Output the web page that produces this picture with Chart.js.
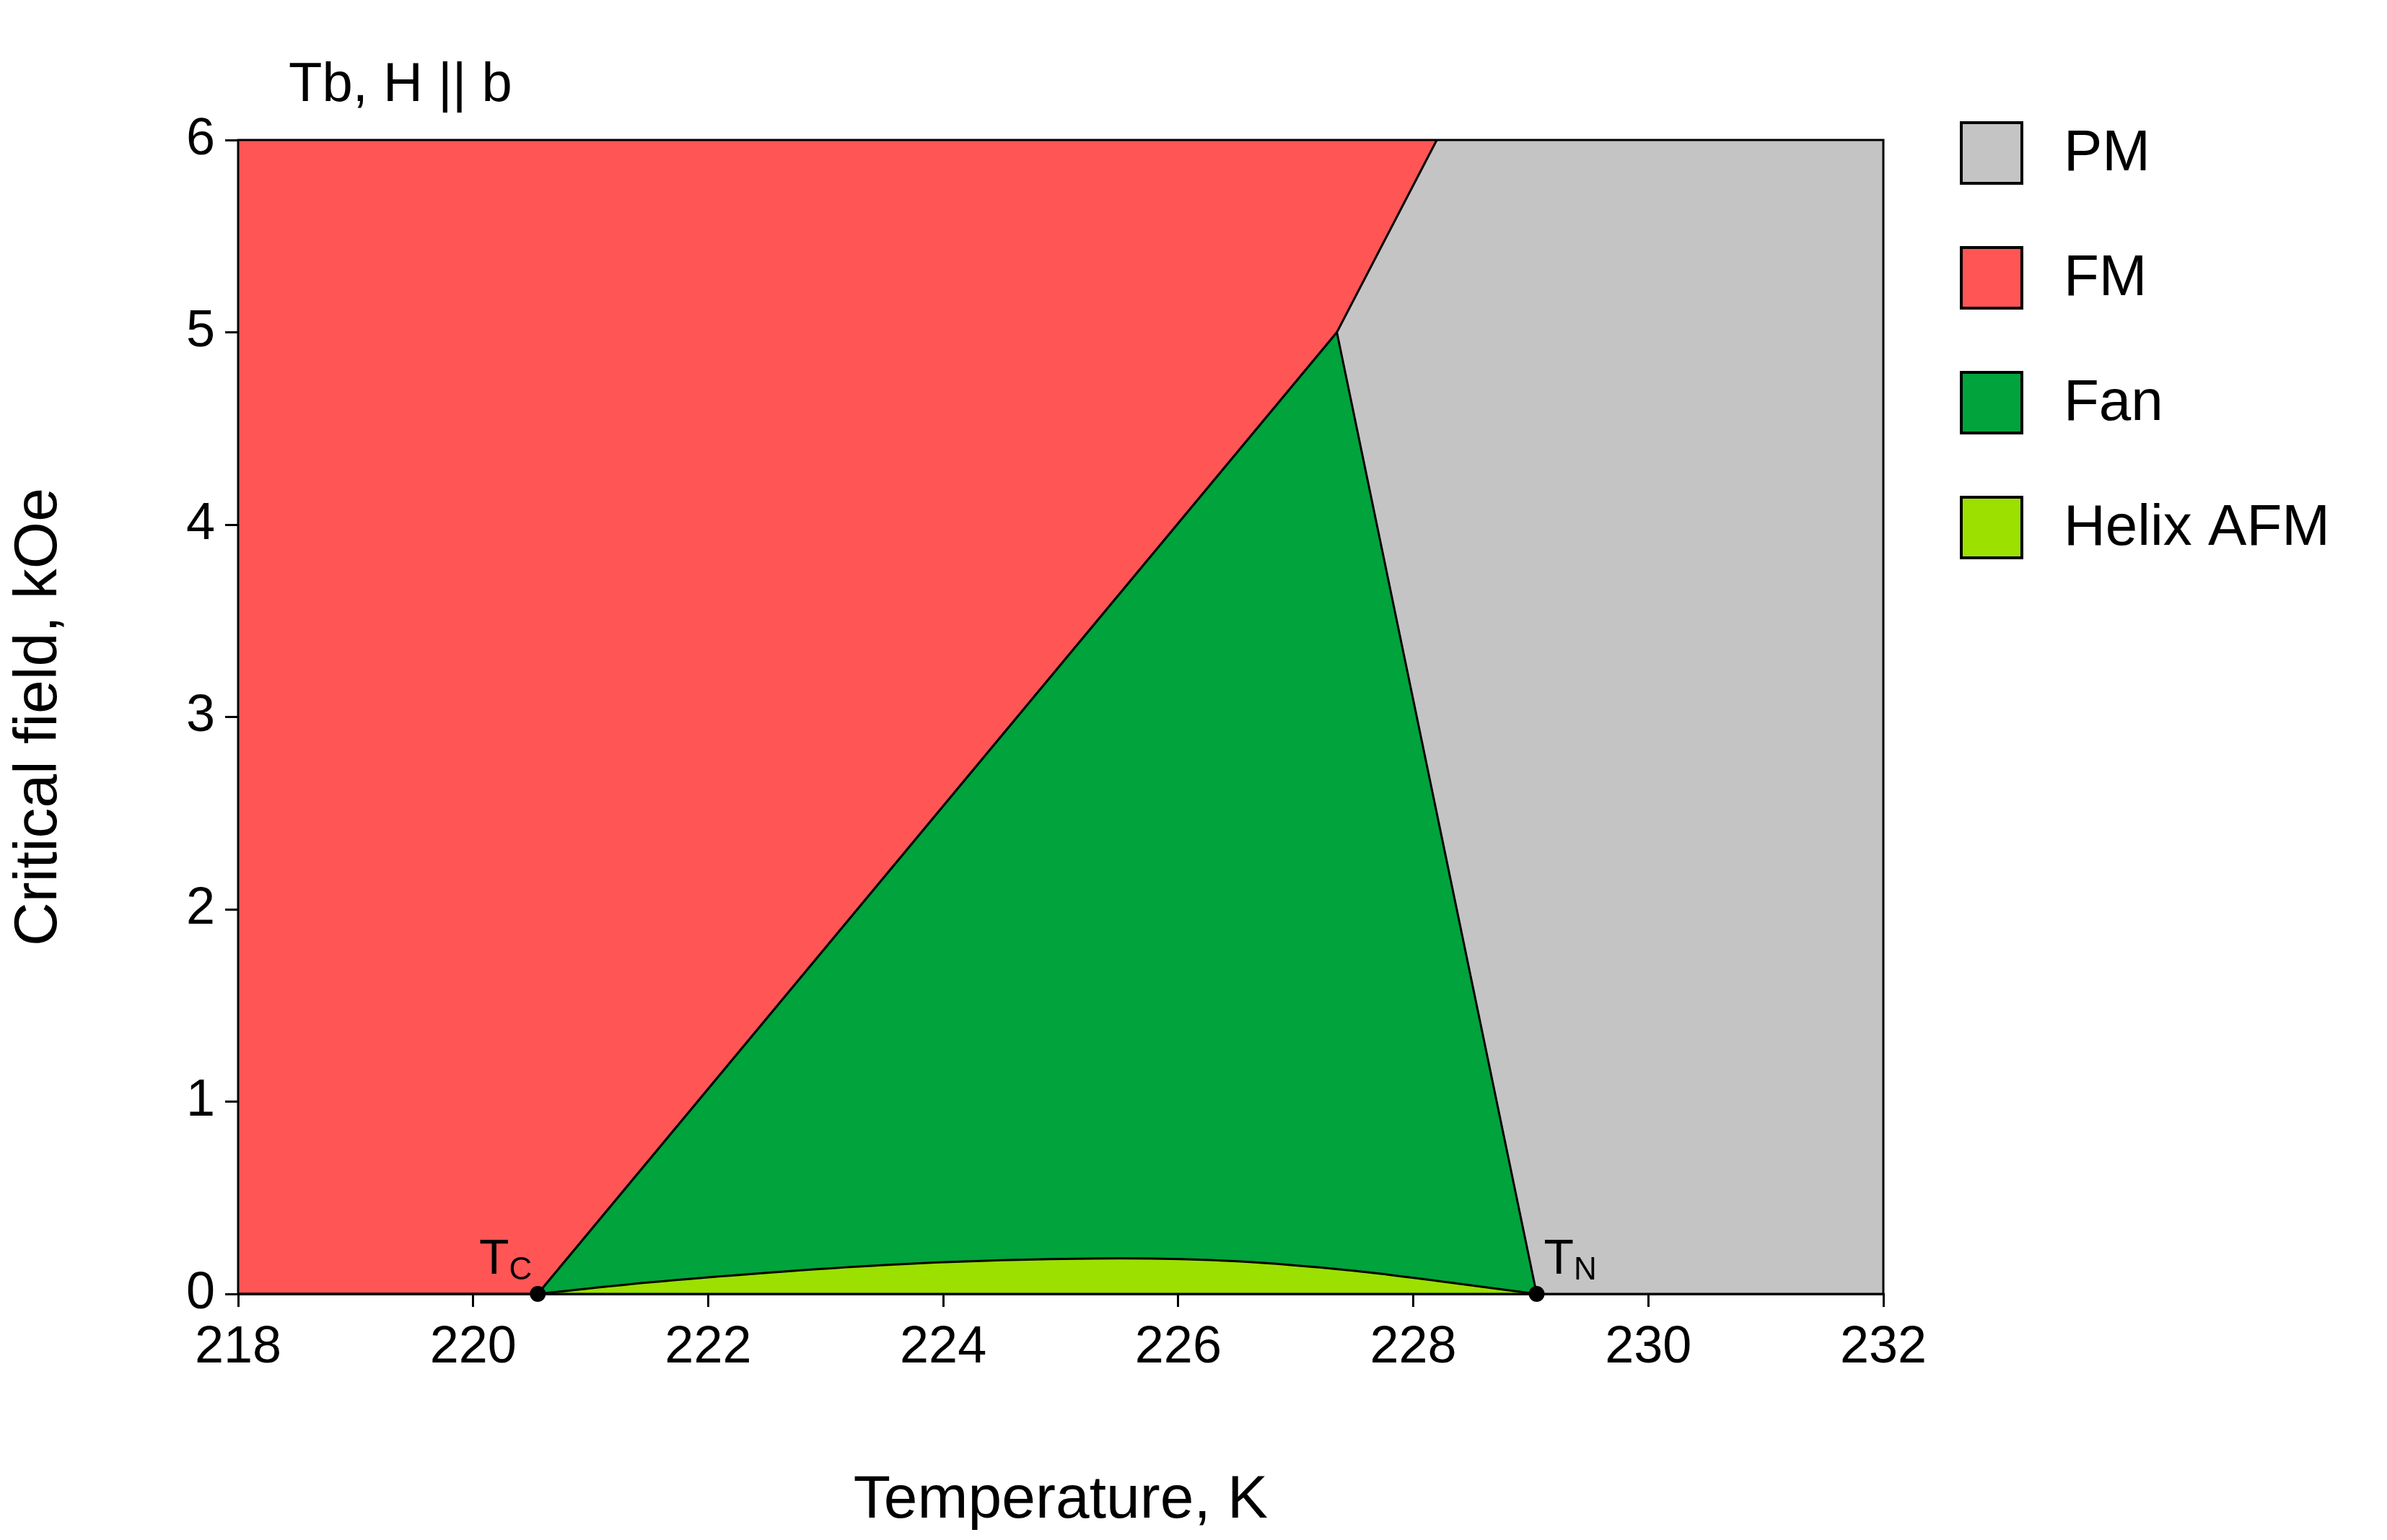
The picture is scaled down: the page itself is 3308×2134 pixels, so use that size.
<!DOCTYPE html>
<html><head><meta charset="utf-8">
<script src="https://cdn.jsdelivr.net/npm/chart.js@4"></script>
<style>html,body{margin:0;background:#fff}</style></head>
<body><canvas id="c" width="3308" height="2134"></canvas>
<script>
const xTicks=[218,220,222,224,226,228,230,232];
const yTicks=[0,1,2,3,4,5,6];
const pmArea=[[218,6],[232,6]];
const fmBoundary=[[218,0],[220.55,0],[227.35,5],[228.2,6]];
const fanBoundary=[[220.55,0],[227.35,5],[229.05,0]];
const helixT=[220.55,221.5,222.5,223.5,224.5,225.5,226.5,227.5,228.3,229.05];
const helixH=[0,0.06,0.11,0.15,0.175,0.185,0.17,0.12,0.06,0];
const transitions=[[220.55,0,'T','C'],[229.05,0,'T','N']];
const legendItems=[['PM','#c4c4c4'],['FM','#ff5555'],['Fan','#00a33c'],['Helix AFM','#9ce000']];
const pts=a=>a.map(p=>({x:p[0],y:p[1]}));
const F='Arial, "Liberation Sans", sans-serif';
const L=330,R=2610,T=194,B=1793;
const deco={id:'deco',afterDraw(ch){
 const c=ch.ctx,a=ch.chartArea,xs=ch.scales.x,ys=ch.scales.y;
 c.save();c.strokeStyle='#000';c.lineWidth=3;c.strokeRect(a.left,a.top,a.right-a.left,a.bottom-a.top);
 c.fillStyle='#000';c.textBaseline='alphabetic';
 c.font='76px '+F;c.fillText('Tb, H || b',400,140);
 transitions.forEach((t,i)=>{const px=xs.getPixelForValue(t[0]),py=ys.getPixelForValue(t[1]);
  c.beginPath();c.arc(px,py,11,0,7);c.fill();
  c.font='68px '+F;
  if(i==0){c.font='44px '+F;const w=c.measureText(t[3]).width;c.fillText(t[3],px-w-8,py-20);c.font='68px '+F;c.fillText(t[2],px-w-8-c.measureText(t[2]).width,py-28);}
  else{c.fillText(t[2],px+10,py-28);const w=c.measureText(t[2]).width;c.font='44px '+F;c.fillText(t[3],px+10+w,py-20);}
 });
 legendItems.forEach((it,i)=>{const y=170+i*173;c.fillStyle=it[1];c.fillRect(2718,y,84,84);c.lineWidth=4;c.strokeRect(2718,y,84,84);
  c.fillStyle='#000';c.font='80px '+F;c.textBaseline='middle';c.fillText(it[0],2860,y+44);});
 c.restore();}};
new Chart(document.getElementById('c'),{type:'scatter',
 data:{datasets:[
  {data:pts(pmArea),showLine:true,fill:'origin',backgroundColor:'#c4c4c4',borderWidth:0,pointRadius:0,order:4},
  {data:pts(fmBoundary),showLine:true,fill:'end',backgroundColor:'#ff5555',borderColor:'#000',borderWidth:3,pointRadius:0,order:3},
  {data:pts(fanBoundary),showLine:true,fill:'origin',backgroundColor:'#00a33c',borderColor:'#000',borderWidth:3,pointRadius:0,order:2},
  {data:helixT.map((t,i)=>({x:t,y:helixH[i]})),showLine:true,cubicInterpolationMode:'monotone',fill:'origin',backgroundColor:'#9ce000',borderColor:'#000',borderWidth:3,pointRadius:0,order:1}
 ]},
 options:{responsive:false,animation:false,devicePixelRatio:1,
  layout:{padding:{left:0,right:3308-R,top:T,bottom:0}},
  plugins:{legend:{display:false},tooltip:{enabled:false}},
  scales:{
   x:{type:'linear',min:218,max:232,afterBuildTicks:s=>{s.ticks=xTicks.map(v=>({value:v}))},
    afterFit:s=>{s.height=2134-B},
    grid:{drawOnChartArea:false,drawTicks:true,tickLength:18,color:'#000',lineWidth:3},border:{color:'#000',width:3},
    ticks:{color:'#000',font:{size:72,family:F},padding:14},
    title:{display:true,text:'Temperature, K',color:'#000',font:{size:84,family:F},padding:{top:20}}},
   y:{type:'linear',min:0,max:6,afterBuildTicks:s=>{s.ticks=yTicks.map(v=>({value:v}))},
    afterFit:s=>{s.width=L},
    grid:{drawOnChartArea:false,drawTicks:true,tickLength:18,color:'#000',lineWidth:3},border:{color:'#000',width:3},
    ticks:{color:'#000',font:{size:72,family:F},padding:14},
    title:{display:true,text:'Critical field, kOe',color:'#000',font:{size:84,family:F},padding:{bottom:20}}}
  }},plugins:[deco]});
</script></body></html>
